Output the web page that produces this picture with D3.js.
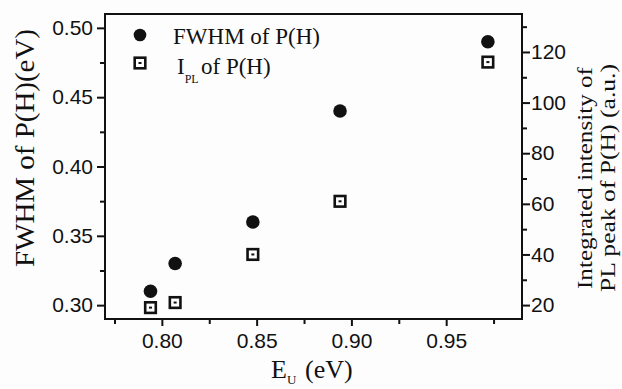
<!DOCTYPE html>
<html>
<head>
<meta charset="utf-8">
<script src="https://cdn.jsdelivr.net/npm/d3@7"></script>
<style>
  html, body { margin: 0; padding: 0; background: #fdfdfd; }
  svg { display: block; }
</style>
</head>
<body>
<div id="chart"></div>
<script>
// Data
const energyU = [0.794, 0.807, 0.848, 0.894, 0.972];      // E_U (eV)
const fwhm = [0.31, 0.33, 0.36, 0.44, 0.49];              // FWHM of P(H) (eV)
const intensity = [19, 21, 40, 61, 116];                  // I_PL of P(H) (a.u.)

const xTicks = [0.80, 0.85, 0.90, 0.95];
const xMinor = [0.775, 0.825, 0.875, 0.925, 0.975];
const yLeftTicks = [0.30, 0.35, 0.40, 0.45, 0.50];
const yLeftMinor = [0.325, 0.375, 0.425, 0.475];
const yRightTicks = [20, 40, 60, 80, 100, 120];
const yRightMinor = [30, 50, 70, 90, 110, 130];

const SERIF = "'Liberation Serif', 'Times New Roman', Times, serif";
const SANS = "'Liberation Sans', Arial, Helvetica, sans-serif";

const W = 622, H = 389;
const plot = { left: 105, right: 522, top: 14, bottom: 319 };

const svg = d3.select('#chart').append('svg')
  .attr('width', W).attr('height', H);

svg.append('rect').attr('width', W).attr('height', H).attr('fill', '#fdfdfd');

const x = d3.scaleLinear().domain([0.77, 0.99]).range([plot.left, plot.right]);
const yL = d3.scaleLinear().domain([0.29, 0.51]).range([plot.bottom, plot.top]);
const yR = d3.scaleLinear().domain([14.5, 135]).range([plot.bottom, plot.top]);

function styleAxis(g) {
  g.attr('font-family', SANS).attr('font-size', 21);
  g.select('.domain').remove();
  g.selectAll('.tick line').attr('stroke', '#111').attr('stroke-width', 2);
  g.selectAll('.tick text').attr('fill', '#111');
}

// Bottom axis
svg.append('g').attr('transform', `translate(0,${plot.bottom})`)
  .call(d3.axisBottom(x).tickValues(xTicks).tickSize(7).tickPadding(7).tickFormat(d3.format('.2f')))
  .call(styleAxis);
svg.append('g').attr('transform', `translate(0,${plot.bottom})`)
  .call(d3.axisBottom(x).tickValues(xMinor).tickSize(5).tickFormat(''))
  .call(styleAxis);

// Left axis
svg.append('g').attr('transform', `translate(${plot.left},0)`)
  .call(d3.axisLeft(yL).tickValues(yLeftTicks).tickSize(8).tickPadding(4).tickFormat(d3.format('.2f')))
  .call(styleAxis);
svg.append('g').attr('transform', `translate(${plot.left},0)`)
  .call(d3.axisLeft(yL).tickValues(yLeftMinor).tickSize(5).tickFormat(''))
  .call(styleAxis);

// Right axis
svg.append('g').attr('transform', `translate(${plot.right},0)`)
  .call(d3.axisRight(yR).tickValues(yRightTicks).tickSize(8).tickPadding(1))
  .call(styleAxis);
svg.append('g').attr('transform', `translate(${plot.right},0)`)
  .call(d3.axisRight(yR).tickValues(yRightMinor).tickSize(5).tickFormat(''))
  .call(styleAxis);

// Frame
svg.append('rect')
  .attr('x', plot.left).attr('y', plot.top)
  .attr('width', plot.right - plot.left).attr('height', plot.bottom - plot.top)
  .attr('fill', 'none').attr('stroke', '#111').attr('stroke-width', 2);

// Open square with centre dot
function squareMarker(g, cx, cy) {
  g.append('rect').attr('x', cx - 5.3).attr('y', cy - 5.3).attr('width', 10.6).attr('height', 10.6)
    .attr('fill', 'none').attr('stroke', '#111').attr('stroke-width', 2.6);
  g.append('rect').attr('x', cx - 1.5).attr('y', cy - 1).attr('width', 3).attr('height', 2)
    .attr('fill', '#111');
}

const pts = energyU.map((e, i) => ({ e, f: fwhm[i], p: intensity[i] }));

svg.append('g').selectAll('circle').data(pts).enter().append('circle')
  .attr('cx', d => x(d.e)).attr('cy', d => yL(d.f)).attr('r', 6.8).attr('fill', '#111');

const sq = svg.append('g');
pts.forEach(d => squareMarker(sq, x(d.e), yR(d.p)));

function serifText(parent) {
  return parent.append('text').attr('font-family', SERIF).attr('fill', '#111');
}

// Legend
svg.append('circle').attr('cx', 140).attr('cy', 35).attr('r', 6.3).attr('fill', '#111');
serifText(svg).attr('x', 173).attr('y', 44).attr('font-size', 23)
  .attr('textLength', 147).attr('lengthAdjust', 'spacingAndGlyphs')
  .text('FWHM of P(H)');
squareMarker(svg.append('g'), 140, 63);
const lg2 = serifText(svg).attr('x', 177).attr('y', 74).attr('font-size', 23);
lg2.append('tspan').text('I');
lg2.append('tspan').attr('dy', 9).attr('font-size', 12).text('PL');
lg2.append('tspan').attr('x', 201).attr('dy', -9).text('of P(H)');

// Axis titles
const xt = serifText(svg).attr('x', 271).attr('y', 378).attr('font-size', 26);
xt.append('tspan').text('E');
xt.append('tspan').attr('dy', 6).attr('font-size', 13).text('U');
xt.append('tspan').attr('x', 305).attr('dy', -6).text('(eV)');

serifText(svg)
  .attr('transform', 'translate(34,148) rotate(-90)')
  .attr('text-anchor', 'middle').attr('font-size', 28)
  .attr('textLength', 238).attr('lengthAdjust', 'spacingAndGlyphs')
  .text('FWHM of P(H)(eV)');

serifText(svg)
  .attr('transform', 'translate(592,178) rotate(-90)')
  .attr('text-anchor', 'middle').attr('font-size', 22)
  .attr('textLength', 222).attr('lengthAdjust', 'spacingAndGlyphs')
  .text('Integrated intensity of');
serifText(svg)
  .attr('transform', 'translate(615,178) rotate(-90)')
  .attr('text-anchor', 'middle').attr('font-size', 22)
  .attr('textLength', 228).attr('lengthAdjust', 'spacingAndGlyphs')
  .text('PL peak of P(H) (a.u.)');
</script>
</body>
</html>
